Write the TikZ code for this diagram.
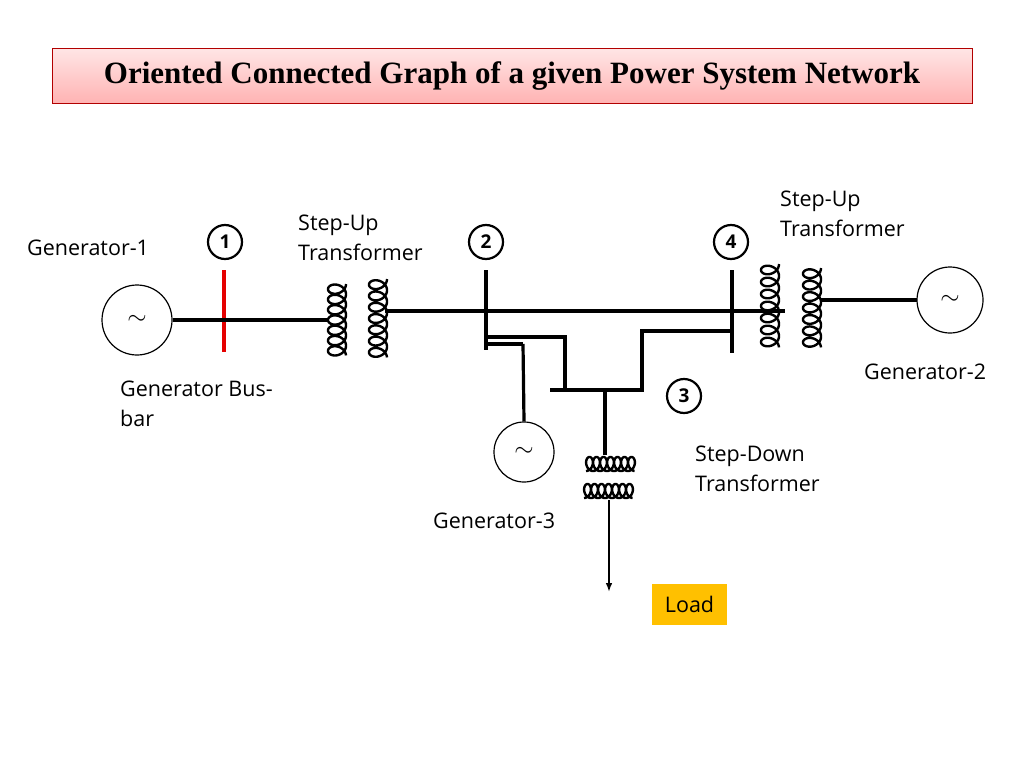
\documentclass[tikz,border=0pt]{standalone}
\usepackage{fontspec}
\usetikzlibrary{arrows.meta}
\setmainfont{Open Sans}
\newfontfamily\titlefont{Liberation Serif}
\definecolor{loadc}{HTML}{FFC000}
\begin{document}
\begin{tikzpicture}[x=1pt,y=-1pt,
  wire/.style={line width=3.2pt},
  lbl/.style={font=\fontsize{21.5}{30}\selectfont,align=left,anchor=north west,inner sep=0pt},
  num/.style={draw,circle,line width=2.2pt,minimum size=34pt,inner sep=0pt,font=\fontsize{19}{19}\selectfont\bfseries},
  gen/.style={draw,circle,line width=1.2pt,inner sep=0pt},
  coil/.style={line width=2.4pt}]
\useasboundingbox (0,0) rectangle (1024,768);
% title
\node[draw=red!70!black,line width=0.8pt,top color=red!10,bottom color=red!30,minimum width=920pt,minimum height=55pt,
  font=\titlefont\fontsize{31}{31}\selectfont\bfseries] (title) at (512,76) {Oriented Connected Graph of a given Power System Network};
% generators
\node[gen,minimum size=70pt] (g1) at (137,320) {\fontsize{60}{60}\selectfont$\sim$};
\node[gen,minimum size=66pt] (g2) at (950,300) {\fontsize{60}{60}\selectfont$\sim$};
\node[gen,minimum size=60pt] (g3) at (524,452) {\fontsize{55}{55}\selectfont$\sim$};
% numbers
\node[num] (n1) at (225,242) {1};
\node[num] (n2) at (486,242) {2};
\node[num] (n4) at (731,242) {4};
\node[num] (n3) at (684,396) {3};
% buses
\coordinate (b1t) at (224,270); \coordinate (b1b) at (224,352);
\draw[line width=4pt,red!90!black] (b1t) -- (b1b);
\coordinate (b2t) at (486,270); \coordinate (b2b) at (486,350);
\draw[wire] (b2t) -- (b2b);
\coordinate (b4t) at (732,270); \coordinate (b4b) at (732,353);
\draw[wire] (b4t) -- (b4b);
% coils (vertical)
\foreach \cx/\ya/\yb in {337/284/356, 378/279/358, 770/264/348, 812/268/348}{
  \draw[coil] plot[domain=0:1,samples=400,smooth] ({\cx+9*cos(2520*\x)},{\ya+(\yb-\ya)*\x+7*sin(2520*\x)});
}
% coils (horizontal)
\foreach \cy/\xa/\xb in {464/586/635, 491/584/633}{
  \draw[coil] plot[domain=0:1,samples=400,smooth] ({\xa+(\xb-\xa)*\x+5*sin(2520*\x)},{\cy+7*cos(2520*\x)});
}
% wires
\coordinate (a1) at (173,320); \coordinate (a2) at (327,320);
\draw[wire] (a1) -- (a2);
\coordinate (a3) at (385,311); \coordinate (a4) at (785,311);
\draw[wire] (a3) -- (a4);
\coordinate (a5) at (820,300); \coordinate (a6) at (917,300);
\draw[wire] (a5) -- (a6);
\coordinate (c1) at (486,337); \coordinate (c2) at (733,331);
\draw[wire] (c1) -- (565,337) -- (565,390);
\draw[wire] (550,390) -- (642,390) -- (642,331) -- (c2);
\coordinate (d1) at (486,344);
\draw[wire] (d1) -- (523,344);
\draw[wire] (523,344) -- (g3.north);
\coordinate (e1) at (605,390); \coordinate (e2) at (605,455);
\draw[wire] (e1) -- (e2);
\coordinate (f1) at (609,500); \coordinate (f2) at (609,592);
\draw[line width=2.4pt,-{Latex[length=9pt]}] (f1) -- (f2);
% labels
\node[lbl] (l1) at (27,240) {Generator-1};
\node[lbl] (l2) at (298,215) {Step-Up\\Transformer};
\node[lbl] (l3) at (780,191) {Step-Up\\Transformer};
\node[lbl] (l4) at (864,364) {Generator-2};
\node[lbl] (l5) at (120,381) {Generator Bus-\\bar};
\node[lbl] (l6) at (695,446) {Step-Down\\Transformer};
\node[lbl] (l7) at (433,513) {Generator-3};
\node[fill=loadc,minimum width=75pt,minimum height=41pt,font=\fontsize{21.5}{21.5}\selectfont] (load) at (689.5,604) {Load};
\end{tikzpicture}
\end{document}
